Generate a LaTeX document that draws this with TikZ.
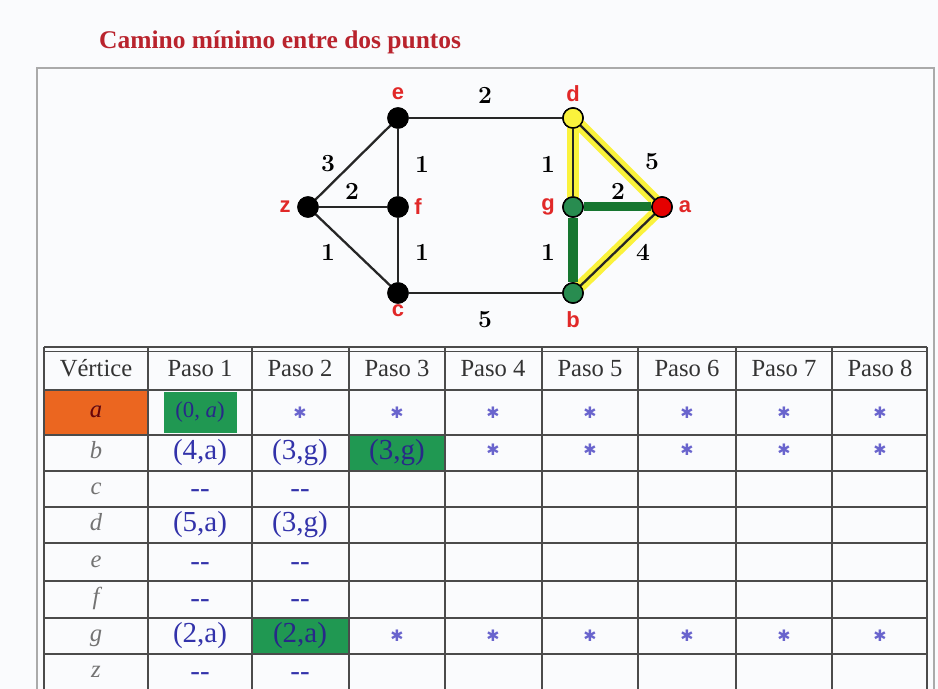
\documentclass[tikz,border=0pt]{standalone}
\usepackage{fontspec}
\usepackage{tikz}
\newfontfamily\tabfont{Liberation Serif}
\newfontfamily\labfont{Liberation Sans}
\newfontfamily\symfont{DejaVu Sans}
\definecolor{paper}{RGB}{250,251,253}
\definecolor{titlered}{RGB}{185,35,45}
\definecolor{vlabred}{RGB}{225,40,40}
\definecolor{entblue}{RGB}{50,50,170}
\definecolor{starblue}{RGB}{105,100,205}
\definecolor{cellgreen}{RGB}{32,152,82}
\definecolor{cellorange}{RGB}{235,102,32}
\definecolor{nodegreen}{RGB}{40,140,80}
\definecolor{pathgreen}{RGB}{22,118,48}
\definecolor{pathyellow}{RGB}{250,242,60}
\definecolor{gridgray}{RGB}{75,75,75}
\definecolor{framegray}{RGB}{170,170,170}

\begin{document}
\begin{tikzpicture}[x=0.02cm, y=-0.02cm,
  vtx/.style={circle, draw=black, line width=0.8pt, fill=black,
    minimum size=0.4cm, inner sep=0pt},
  vlab/.style={text=vlabred, font=\labfont\bfseries\fontsize{12.5}{14}\selectfont},
  wlab/.style={font=\bfseries\fontsize{14}{16}\selectfont},
  edge/.style={line width=1.3pt, black!85},
  hlyellow/.style={line width=0.24cm, pathyellow},
  hlgreen/.style={line width=0.18cm, pathgreen},
  head/.style={anchor=base, font=\tabfont\fontsize{14}{16}\selectfont, text=black!80},
  rowlab/.style={anchor=base, font=\tabfont\itshape\fontsize{14}{16}\selectfont, text=black!55},
  entry/.style={font=\tabfont\fontsize{16.5}{18}\selectfont, text=entblue},
  star/.style={font=\symfont\fontsize{9}{10}\selectfont, text=starblue},
  grid/.style={line width=0.8pt, gridgray}]
\useasboundingbox[fill=paper] (0,0) rectangle (938,689);
\clip (0,0) rectangle (938,689);

% title and frame
\node[anchor=west, text=titlered, font=\tabfont\bfseries\fontsize{14.5}{16}\selectfont]
  (title) at (93,42) {Camino mínimo entre dos puntos};
\draw[framegray, line width=1pt] (37,68) rectangle (934,720);

% graph
\node[vtx] (e) at (398,118) {};
\node[vtx, fill=pathyellow] (d) at (573,118) {};
\node[vtx] (z) at (308,207) {};
\node[vtx] (f) at (398,207) {};
\node[vtx, fill=nodegreen] (g) at (573,207) {};
\node[vtx, fill=red!90!black] (a) at (662,207) {};
\node[vtx] (c) at (398,293) {};
\node[vtx, fill=nodegreen] (b) at (573,293) {};

\draw[hlyellow] (d.center) -- (g.center);
\draw[hlyellow] (d.center) -- (a.center);
\draw[hlyellow] (a.center) -- (b.center);
\draw[edge] (e) -- (d);
\draw[edge] (z) -- (e);
\draw[edge] (z) -- (f);
\draw[edge] (z) -- (c);
\draw[edge] (e) -- (f);
\draw[edge] (f) -- (c);
\draw[edge] (c) -- (b);
\draw[edge] (d) -- (g);
\draw[edge] (d) -- (a);
\draw[edge] (a) -- (b);
\draw[hlgreen] (g) -- (a);
\draw[hlgreen, line width=0.2cm] (g) -- (b);
\foreach \n in {e,d,z,f,g,a,c,b} \node[vtx, fill=none] at (\n) {};
\node[vtx, fill=pathyellow] at (d) {};
\node[vtx, fill=nodegreen] at (g) {};
\node[vtx, fill=red!90!black] at (a) {};
\node[vtx, fill=nodegreen] at (b) {};

\node[vlab] (le) at (398,94) {e};
\node[vlab] (ld) at (573,94) {d};
\node[vlab] (lz) at (285,207) {z};
\node[vlab] (lf) at (418,207) {f};
\node[vlab] (lg) at (548,207) {g};
\node[vlab] (la) at (685,207) {a};
\node[vlab] (lc) at (398,311) {c};
\node[vlab] (lb) at (573,320) {b};

\node[wlab] (wed) at (485,95) {2};
\node[wlab] (wze) at (328,164) {3};
\node[wlab] (wef) at (422,164) {1};
\node[wlab] (wzf) at (352,191) {2};
\node[wlab] (wzc) at (328,252) {1};
\node[wlab] (wfc) at (422,252) {1};
\node[wlab] (wdg) at (548,164) {1};
\node[wlab] (wda) at (652,162) {5};
\node[wlab] (wga) at (618,191) {2};
\node[wlab] (wgb) at (548,252) {1};
\node[wlab] (wab) at (643,252) {4};
\node[wlab] (wcb) at (485,320) {5};

% table cells
\fill[cellorange] (44,390) rectangle (148,435);
\fill[cellgreen] (164,392) rectangle (237,433);
\fill[cellgreen] (349,435) rectangle (445,471);
\fill[cellgreen] (252,618) rectangle (349,654);

% table grid
\foreach \y in {390,435,471,507,543,581,618,654}
  \draw[grid] (44,\y) -- (927,\y);
\foreach \x in {44,148,252,349,445,542,638,736,832,927}
  \draw[grid] (\x,347) -- (\x,700);
\draw[grid] (44,347) -- (927,347);
\draw[grid, line width=0.5pt] (44,351) -- (927,351);

% header and vertex column
\node[head] (h0) at (96,377) {Vértice};
\foreach \k/\cx in {1/200,2/300,3/397,4/493,5/590,6/687,7/784,8/880}
  \node[head] (h\k) at (\cx,377) {Paso \k};
\foreach \v/\cy in {a/418,b/459,c/495,d/531,e/568,f/605,g/642,z/678}
  \node[rowlab] (r\v) at (96,\cy) {\v};
\node[rowlab, text=red!45!black] at (ra.base) {a};

% entries
\node[entry, text=entblue!80!black, font=\tabfont\fontsize{13}{14}\selectfont]
  (a1) at (200,412) {(0, \textit{a})};
\foreach \k/\cx in {2/300,3/397,4/493,5/590,6/687,7/784,8/880}
  \node[star] (a\k) at (\cx,413) {✱};
\node[entry] (b1) at (200,453) {(4,a)};
\node[entry] (b2) at (300,453) {(3,g)};
\node[entry, text=entblue!80!black] (b3) at (397,453) {(3,g)};
\foreach \k/\cx in {4/493,5/590,6/687,7/784,8/880}
  \node[star] (b\k) at (\cx,450) {✱};
\node[entry] (c1) at (200,494) {{-}{-}};
\node[entry] (c2) at (300,494) {{-}{-}};
\node[entry] (d1) at (200,525) {(5,a)};
\node[entry] (d2) at (300,525) {(3,g)};
\node[entry] (e1) at (200,567) {{-}{-}};
\node[entry] (e2) at (300,567) {{-}{-}};
\node[entry] (f1) at (200,604) {{-}{-}};
\node[entry] (f2) at (300,604) {{-}{-}};
\node[entry] (g1) at (200,636) {(2,a)};
\node[entry, text=entblue!80!black] (g2) at (300,636) {(2,a)};
\foreach \k/\cx in {3/397,4/493,5/590,6/687,7/784,8/880}
  \node[star] (g\k) at (\cx,636) {✱};
\node[entry] (z1) at (200,677) {{-}{-}};
\node[entry] (z2) at (300,677) {{-}{-}};
\end{tikzpicture}
\end{document}
